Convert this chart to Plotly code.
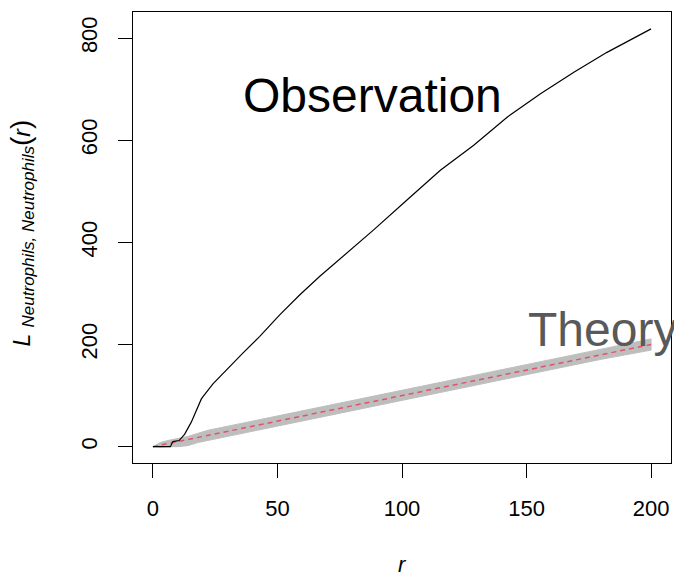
import plotly.graph_objects as go

# Observed L-function
obs_r = [0, 7, 8, 10.5, 12.7, 15.4, 19.4, 20.1, 24.1, 28.1, 32.1, 36.1, 42.9, 50.9,
         58.9, 66.9, 77.7, 88.5, 102, 115.4, 128.8, 142.2, 155.6, 169, 182.3, 200]
obs_L = [0, 0, 10, 12, 24, 48, 93, 98, 123, 144, 163, 183, 216, 258,
         297, 333, 378, 424, 483, 541, 590, 645, 691, 733, 772, 818]

# Envelope band around theoretical value
env_r = [0, 3, 6, 10, 14, 18, 22, 30, 40, 50, 60, 70, 80, 90, 100, 120, 140, 160, 180, 200]
env_hi = [0, 8, 12, 16, 20, 26, 32, 40, 50, 61, 70, 80, 90, 100, 110, 130, 150, 170, 190, 211]
env_lo = [0, -1, 0, 0, 2, 8, 12, 21, 31, 41, 51, 61, 71, 81, 91, 111, 131, 151, 171, 189]

# Theoretical L(r) = r
theo_r = [0, 200]
theo_L = [0, 200]

x_ticks = [0, 50, 100, 150, 200]
y_ticks = [0, 200, 400, 600, 800]

FONT = "Liberation Sans, Arial, Helvetica, sans-serif"

fig = go.Figure()
fig.add_trace(go.Scatter(x=env_r + env_r[::-1], y=env_hi + env_lo[::-1], fill="toself",
                         fillcolor="#BEBEBE", line=dict(color="#BEBEBE", width=1),
                         mode="lines", hoverinfo="skip", showlegend=False))
fig.add_trace(go.Scatter(x=theo_r, y=theo_L, mode="lines",
                         line=dict(color="#DF536B", width=1.5, dash="5px,4px"),
                         showlegend=False))
fig.add_trace(go.Scatter(x=obs_r, y=obs_L, mode="lines",
                         line=dict(color="black", width=1.2), showlegend=False))

axis_common = dict(showgrid=False, zeroline=False, showline=True, mirror=True,
                   linecolor="black", linewidth=1.2, ticks="outside", ticklen=14,
                   tickwidth=1.2, tickcolor="black",
                   tickfont=dict(family=FONT, size=22, color="black"))

fig.update_xaxes(range=[-8, 208], tickvals=x_ticks, ticktext=[str(v) for v in x_ticks],
                 ticklabelstandoff=11, **axis_common)
fig.update_yaxes(range=[-32, 851], tickvals=y_ticks, ticktext=[str(v) for v in y_ticks],
                 tickangle=-90, ticklabelstandoff=12, **axis_common)

fig.add_annotation(x=88, y=687, xref="x", yref="y", text="Observation", showarrow=False,
                   font=dict(family=FONT, size=48, color="black"))
fig.add_annotation(x=180.5, y=230, xref="x", yref="y", text="Theory", showarrow=False,
                   font=dict(family=FONT, size=48, color="#595959"))

fig.add_annotation(x=0.5, y=-0.225, xref="paper", yref="paper", text="<i>r</i>",
                   showarrow=False, yanchor="middle",
                   font=dict(family=FONT, size=22, color="black"))
fig.add_annotation(x=-0.207, y=0.51, xref="paper", yref="paper", textangle=-90,
                   text="<i>L</i> <sub><i><span style='font-size:17px'>Neutrophils, Neutrophils</span></i></sub>"
                        "<span style='font-size:28px'>(</span><i>r</i>"
                        "<span style='font-size:28px'>)</span>",
                   showarrow=False, xanchor="center", yanchor="middle",
                   font=dict(family=FONT, size=23, color="black"))

fig.update_layout(width=674, height=575, margin=dict(l=133, r=3, t=12, b=112),
                  paper_bgcolor="white", plot_bgcolor="white", showlegend=False)

fig.write_html("out.html")
